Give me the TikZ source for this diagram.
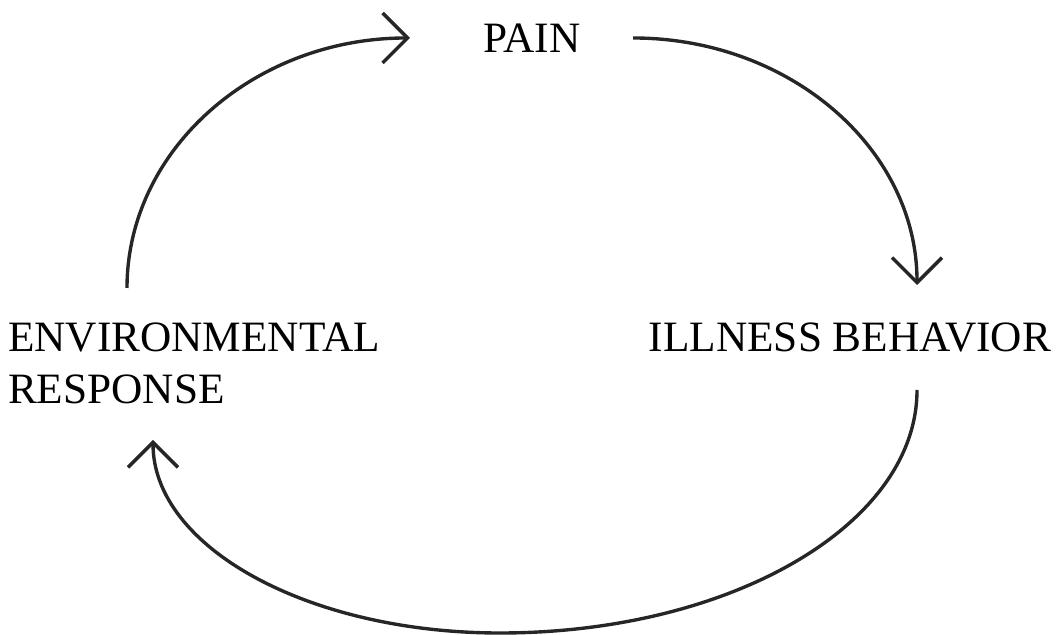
\documentclass[tikz,border=0pt]{standalone}
\usepackage{fontspec}
\setmainfont{Liberation Serif}
\usetikzlibrary{arrows.meta,positioning,calc}
\tikzset{
  stage/.style={font=\fontsize{30.8}{37}\selectfont,inner sep=0pt,outer sep=0pt,align=left},
  flow/.style={-{Straight Barb[length=6.25mm,width=12.5mm]},line width=2.4pt,draw=black!85},
}

\begin{document}
\begin{tikzpicture}[x=0.025cm,y=0.025cm]
\useasboundingbox (0,0) rectangle (1062,635);
\node[stage,anchor=base] (pain) at (532,582) {PAIN};
\node[stage,anchor=base] (ill) at (850,283) {ILLNESS BEHAVIOR};
\node[stage,anchor=base west] (env) at (8,231) {ENVIRONMENTAL\\RESPONSE};
% free ends of the three arcs
\coordinate (envtop) at (127,347);
\coordinate (painin) at (410,597);
\coordinate (painout) at (633,597);
\coordinate (illtop) at (917,350);
\coordinate (illbot) at (917,245);
\coordinate (low) at (500,2);
\coordinate (envbot) at (153,195);
\draw[flow] (envtop) .. controls +(0,138) and +(-156,0) .. (painin);
\draw[flow] (painout) .. controls +(157,0) and +(0,136) .. (illtop);
\draw[flow] (illbot) .. controls +(0,-135) and +(230,0) .. (low)
  .. controls +(-192,0) and +(0,-107) .. (envbot);
\end{tikzpicture}
\end{document}
